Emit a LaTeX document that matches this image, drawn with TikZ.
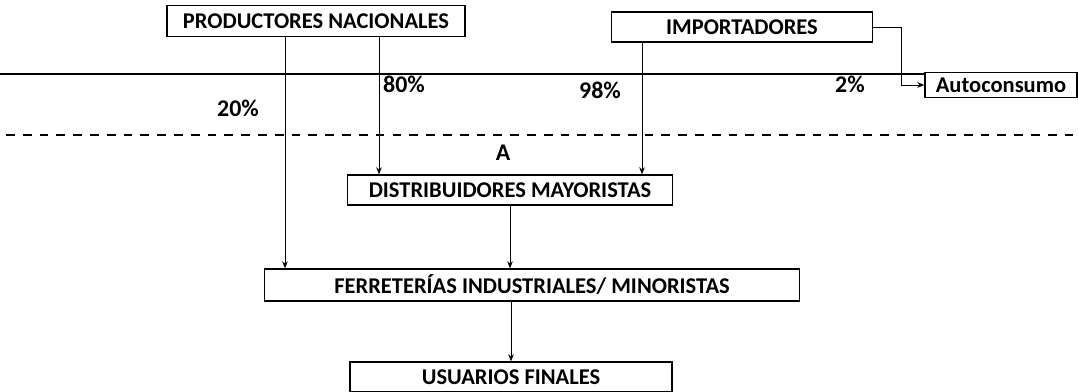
\documentclass[tikz,border=0pt]{standalone}
\usepackage{fontspec}
\setmainfont{Carlito}
\usetikzlibrary{arrows.meta}

\begin{document}
\begin{tikzpicture}[x=0.025cm,y=-0.025cm]
\tikzstyle{actor} = [rectangle, draw=black, line width=1pt, inner sep=0pt,
  font=\fontsize{16}{19}\selectfont\bfseries]
\tikzstyle{share} = [inner sep=0pt, font=\fontsize{17}{20}\selectfont\bfseries]
\tikzstyle{flow} = [-{Stealth[length=5pt,width=4pt]}, line width=0.6pt]

\useasboundingbox (0,0) rectangle (1078,391);

\node(productores) [actor, minimum width=298*0.025cm, minimum height=31*0.025cm] at (316,21) {PRODUCTORES NACIONALES};
\node(importadores) [actor, minimum width=261*0.025cm, minimum height=30*0.025cm] at (742,27) {IMPORTADORES};
\node(autoconsumo) [actor, minimum width=152*0.025cm, minimum height=25*0.025cm] at (1001,85) {Autoconsumo};
\node(distribuidores) [actor, minimum width=325*0.025cm, minimum height=30*0.025cm] at (510,190) {DISTRIBUIDORES MAYORISTAS};
\node(ferreterias) [actor, minimum width=535*0.025cm, minimum height=32*0.025cm] at (532,285) {FERRETERÍAS INDUSTRIALES/ MINORISTAS};
\node(usuarios) [actor, minimum width=322*0.025cm, minimum height=30*0.025cm] at (511,377) {USUARIOS FINALES};

\node(p80) [share] at (404,84) {80\%};
\node(p20) [share] at (238,108) {20\%};
\node(p98) [share] at (600,90) {98\%};
\node(p2) [share] at (850,84) {2\%};
\node(zonaA) [share] at (503,153) {A};

\coordinate (xa) at (285,0);
\coordinate (xb) at (379,0);
\coordinate (xc) at (642,0);
\coordinate (xd) at (901,0);
\coordinate (left) at (0,74);
\coordinate (dashL) at (6,135);
\coordinate (dashR) at (1078,135);

\draw[line width=1.4pt] (left) -- (left -| autoconsumo.west);
\draw[line width=1.3pt, dash pattern=on 0.22cm off 0.2cm] (dashL) -- (dashR);

\draw[flow] (productores.south -| xa) -- (ferreterias.north -| xa);
\draw[flow] (productores.south -| xb) -- (distribuidores.north -| xb);
\draw[flow] (importadores.south -| xc) -- (distribuidores.north -| xc);
\draw[flow] (importadores.east) -- (importadores.east -| xd) |- (autoconsumo.west);
\draw[flow] (distribuidores.south) -- (ferreterias.north -| distribuidores.south);
\draw[flow] (usuarios.north |- ferreterias.south) -- (usuarios.north);
\end{tikzpicture}
\end{document}
